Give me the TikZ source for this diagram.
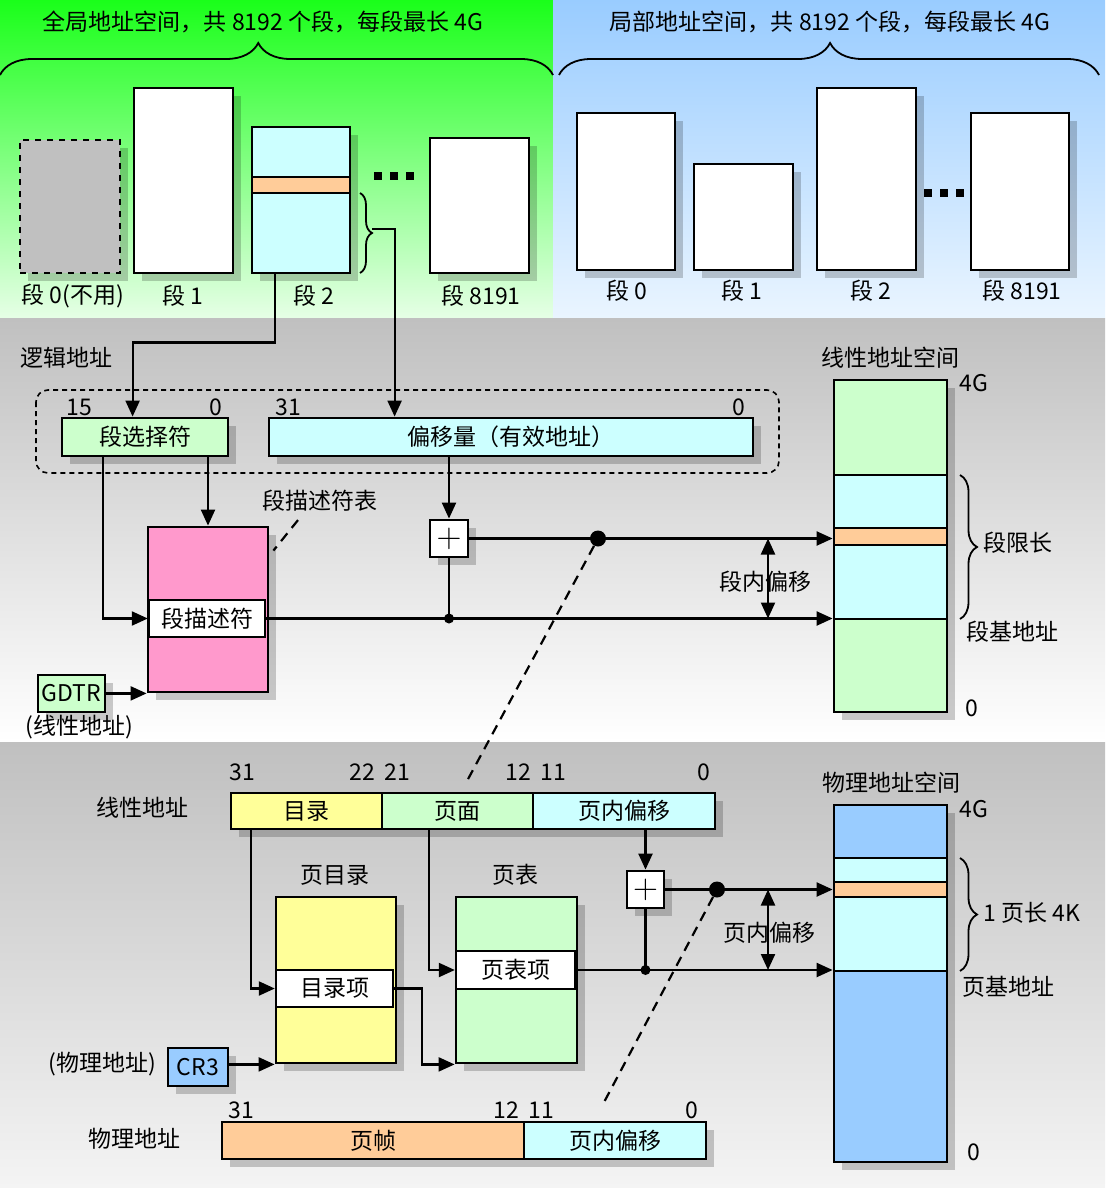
\documentclass[tikz,border=0pt]{standalone}
\usepackage{fontspec}
\setmainfont{Noto Sans CJK SC}
\usetikzlibrary{arrows.meta,calc,fit,shadows,decorations.pathreplacing}
\definecolor{grnTop}{HTML}{1AFF1A}
\definecolor{grnBot}{HTML}{E6FFE6}
\definecolor{bluTop}{HTML}{99CCFF}
\definecolor{bluBot}{HTML}{EAF5FF}
\definecolor{gryTop}{HTML}{C0C0C0}
\definecolor{gryBot}{HTML}{F4F4F4}
\definecolor{cellGreen}{HTML}{CCFFCC}
\definecolor{cellCyan}{HTML}{CCFFFF}
\definecolor{cellOrange}{HTML}{FFCC99}
\definecolor{cellPink}{HTML}{FF99CC}
\definecolor{cellYellow}{HTML}{FFFF99}
\definecolor{cellBlue}{HTML}{99CCFF}
\definecolor{cellGray}{HTML}{C0C0C0}

\begin{document}
\begin{tikzpicture}[
  x=0.5pt,y=-0.5pt,
  every node/.style={font=\fontsize{11.5}{13}\selectfont, inner sep=1pt},
  blk/.style={draw, line width=1.4pt, inner sep=0pt,
    drop shadow={shadow xshift=4pt, shadow yshift=-4pt, fill=black, opacity=0.2}},
  cell/.style={draw, line width=1.2pt, inner sep=0pt},
  txt/.style={label=center:{#1}},
  plus/.style={label={[font=\fontsize{17}{17}\selectfont]center:$+$}},
  arrow/.style={-{Triangle[length=8pt,width=7pt]}, line width=1.1pt},
  dbl/.style={{Triangle[length=8pt,width=7pt]}-{Triangle[length=8pt,width=7pt]}, line width=1.1pt},
  wire/.style={line width=1.1pt},
  dsh/.style={line width=1.1pt, dash pattern=on 5pt off 3.5pt},
  brc/.style={line width=0.9pt, decorate, decoration={brace, amplitude=#1}},
  dots/.style={line width=4pt, dash pattern=on 4pt off 4pt},
  bigdot/.style={circle, fill, inner sep=0pt, minimum size=8pt},
  smalldot/.style={circle, fill, inner sep=0pt, minimum size=5pt}
]
\useasboundingbox (0,0) rectangle (1105,1188);
% backgrounds
\shade[top color=grnTop, bottom color=grnBot] (0,0) rectangle (553,318);
\shade[top color=bluTop, bottom color=bluBot] (553,0) rectangle (1105,318);
\shade[top color=gryTop, bottom color=white] (0,318) rectangle (1105,742);
\shade[top color=gryTop, bottom color=gryBot] (0,742) rectangle (1105,1188);

% global address space
\node (ttlG) at (263,22) {全局地址空间，共 8192 个段，每段最长 4G};
\draw[brc=16pt, decoration={aspect=0.467}] (0,75) -- (553,75);
\node[blk, fill=cellGray, dashed, fit={(20,140) (120,273)}] (gs0) {};
\node[blk, fill=white, fit={(134,88) (233,273)}] (gs1) {};
\node[blk, fill=cellCyan, fit={(252,127) (350,273)}] (gs2) {};
\node[cell, fill=cellOrange, fit={(252,177) (350,193)}] (gs2sel) {};
\draw[dots] (374,176) -- (414,176);
\node[blk, fill=white, fit={(430,138) (529,273)}] (gs8191) {};
\node (gs0lbl) at (73,296) {段 0(不用)};
\node (gs1lbl) at (183,296) {段 1};
\node (gs2lbl) at (314,296) {段 2};
\node (gs8191lbl) at (481,296) {段 8191};
\draw[brc=6pt] (360,193) -- (360,273);
\coordinate (gs2tip) at (372,229);

% local address space
\node (ttlL) at (830,22) {局部地址空间，共 8192 个段，每段最长 4G};
\draw[brc=16pt, decoration={aspect=0.502}] (559,75) -- (1099,75);
\node[blk, fill=white, fit={(577,113) (675,270)}] (ls0) {};
\node[blk, fill=white, fit={(694,164) (793,270)}] (ls1) {};
\node[blk, fill=white, fit={(817,88) (916,270)}] (ls2) {};
\draw[dots] (924,193) -- (964,193);
\node[blk, fill=white, fit={(971,113) (1069,270)}] (ls8191) {};
\node (ls0lbl) at (627,291) {段 0};
\node (ls1lbl) at (742,291) {段 1};
\node (ls2lbl) at (871,291) {段 2};
\node (ls8191lbl) at (1022,291) {段 8191};

% logical address -> linear address
\node (logic) at (66,358) {逻辑地址};
\draw[line width=0.8pt, dash pattern=on 2.5pt off 2pt, rounded corners=6pt] (36,390) rectangle (779,473);
\node (selHi) at (79,407) {15};
\node (selLo) at (216,407) {0};
\node (offHi) at (288,407) {31};
\node (offLo) at (739,407) {0};
\node[blk, fill=cellGreen, fit={(62,418) (228,456)}, txt=段选择符] (sel) {};
\node[blk, fill=cellCyan, fit={(269,418) (753,456)}, txt=偏移量（有效地址）] (off) {};
\node[blk, fill=cellPink, fit={(148,527) (268,692)}] (dtab) {};
\node[cell, fill=white, fit={(149,600) (265,637)}, txt=段描述符] (dent) {};
\node (dtlbl) at (320,501) {段描述符表};
\draw[dsh] ($(dtlbl.south)+(-22,6)$) -- ($(dtab.north east)+(4,25)$);
\node[blk, fill=cellGreen, fit={(38,675) (105,712)}, txt=GDTR] (gdtr) {};
\node (gdtrlbl) at (79,727) {(线性地址)};
\node[blk, fill=white, fit={(430,520) (468,557)}, plus] (plusA) {};
\node[blk, fill=cellGreen, fit={(834,380) (947,712)}] (lin) {};
\node[cell, fill=cellCyan, fit={(834,475) (947,619)}] (linseg) {};
\node[cell, fill=cellOrange, fit={(834,528) (947,545)}] (linbyte) {};
\node (linlbl) at (890,358) {线性地址空间};
\node (linTop) at (974,383) {4G};
\node (linBot) at (972,708) {0};
\draw[brc=8.5pt] (960,475) -- (960,619);
\node[anchor=west] (limit) at (981,543) {段限长};
\node (segbase) at (1012,632) {段基地址};
\node (segoff) at (765,582) {段内偏移};

\draw[arrow] ($(gs2.south west)+(24,0)$) -- ++(0,68) -| ($(sel.north west)+(72,0)$);
\draw[wire] (gs2tip) -- ++(24,0);
\draw[arrow] (gs2tip) -| ($(off.north west)+(127,0)$);
\draw[arrow] (sel.south -| dtab.north) -- (dtab.north);
\draw[arrow] ($(sel.south west)+(42,0)$) |- (dent.west);
\draw[arrow] (gdtr.east |- dtab.south west) -- (dtab.south west);
\draw[arrow] (off.south -| plusA.north) -- (plusA.north);
\draw[arrow] (plusA.east) -- (plusA.east -| lin.west);
\draw[wire] (plusA.south) -- (plusA.south |- dent.east) node[smalldot] (jA) {};
\draw[arrow] (dent.east) -- (dent.east -| lin.west);
\node[bigdot] (dotA) at (598,538.5) {};
\coordinate (gapA) at (768,580);
\draw[dbl] (gapA |- plusA.east) -- (gapA |- dent.east);
\coordinate (dashEndA) at (467,781);
\draw[dsh] (dotA) -- (dashEndA);

% linear address -> physical address
\node (laHi) at (242,772) {31};
\node (laDirLo) at (362,772) {22};
\node (laPgHi) at (397,772) {21};
\node (laPgLo) at (518,772) {12};
\node (laOffHi) at (553,772) {11};
\node (laOffLo) at (704,772) {0};
\node (lalbl) at (142,808) {线性地址};
\node[blk, fit={(231,793) (715,829)}] (lab) {};
\node[cell, fill=cellYellow, fit={(231,793) (382,829)}, txt=目录] (ladir) {};
\node[cell, fill=cellGreen, fit={(382,793) (533,829)}, txt=页面] (lapg) {};
\node[cell, fill=cellCyan, fit={(533,793) (715,829)}, txt=页内偏移] (laoff) {};

\node (pdirlbl) at (335,875) {页目录};
\node (ptablbl) at (515,875) {页表};
\node[blk, fill=cellYellow, fit={(276,897) (396,1063)}] (pdir) {};
\node[cell, fill=white, fit={(276,970) (393,1007)}, txt=目录项] (pde) {};
\node[blk, fill=cellGreen, fit={(456,897) (577,1063)}] (ptab) {};
\node[cell, fill=white, fit={(456,951) (575,989)}, txt=页表项] (pte) {};
\node[blk, fill=cellBlue, fit={(168,1048) (228,1086)}, txt=CR3] (cr3) {};
\node (cr3lbl) at (102,1064) {(物理地址)};
\node[blk, fill=white, fit={(627,871) (664,908)}, plus] (plusB) {};

\node[blk, fill=cellBlue, fit={(834,805) (947,1162)}] (phy) {};
\node[cell, fill=cellCyan, fit={(834,858) (947,971)}] (phypage) {};
\node[cell, fill=cellOrange, fit={(834,882) (947,897)}] (phybyte) {};
\node (phylbl) at (891,783) {物理地址空间};
\node (phyTop) at (974,809) {4G};
\node (phyBot) at (974,1152) {0};
\draw[brc=8.5pt] (960,858) -- (960,971);
\node[anchor=west] (pglen) at (981,913) {1 页长 4K};
\node (pgbase) at (1008,987) {页基地址};
\node (pgoff) at (769,933) {页内偏移};

\node (paHi) at (241,1110) {31};
\node (paFrLo) at (506,1110) {12};
\node (paOffHi) at (541,1110) {11};
\node (paOffLo) at (692,1110) {0};
\node (palbl) at (134,1139) {物理地址};
\node[blk, fit={(222,1122) (706,1159)}] (pab) {};
\node[cell, fill=cellOrange, fit={(222,1122) (524,1159)}, txt=页帧] (pafr) {};
\node[cell, fill=cellCyan, fit={(524,1122) (706,1159)}, txt=页内偏移] (paoff) {};

\draw[arrow] ($(ladir.south west)+(21,0)$) |- (pde.west);
\draw[arrow] ($(lapg.south west)+(48,0)$) |- (pte.west);
\draw[arrow] (pde.east) -- ++(28,0) |- (ptab.south west);
\draw[arrow] (cr3.east |- pdir.south west) -- (pdir.south west);
\draw[arrow] (laoff.south -| plusB.north) -- (plusB.north);
\draw[arrow] (plusB.east) -- (plusB.east -| phy.west);
\draw[wire] (plusB.south) -- (plusB.south |- pte.east) node[smalldot] (jB) {};
\draw[arrow] (pte.east) -- (pte.east -| phy.west);
\node[bigdot] (dotB) at (717,889.5) {};
\coordinate (gapB) at (768,930);
\draw[dbl] (gapB |- plusB.east) -- (gapB |- pte.east);
\coordinate (dashEndB) at (602,1106);
\draw[dsh] (dotB) -- (dashEndB);
\end{tikzpicture}
\end{document}
